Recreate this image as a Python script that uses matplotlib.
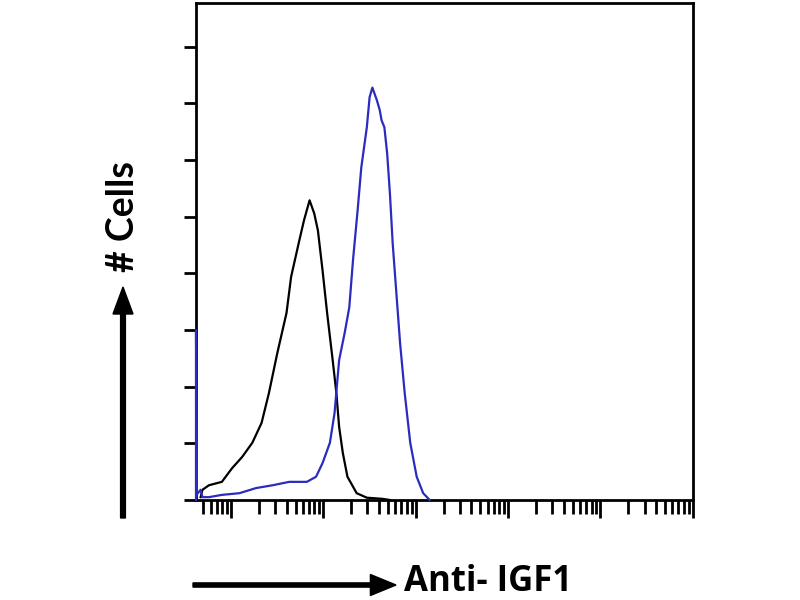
import numpy as np
import matplotlib
matplotlib.use("Agg")
from matplotlib import pyplot as plt
from matplotlib.ticker import LogLocator, NullFormatter

# -------------------- Datos del histograma --------------------
# log10 de la intensidad y numero de celulas (unidades de la escala)
control_log = [-0.33, -0.31, -0.24, -0.10, 0.01, 0.12, 0.23, 0.33, 0.41, 0.50, 0.60,
               0.65, 0.74, 0.79, 0.85, 0.90, 0.94, 0.99, 1.04, 1.10, 1.14, 1.17,
               1.21, 1.26, 1.36, 1.47, 1.56, 1.64, 1.72]
control_cells = [0.05, 0.18, 0.26, 0.32, 0.56, 0.76, 1.01, 1.36, 1.89, 2.59, 3.30,
                 3.94, 4.59, 4.94, 5.29, 5.06, 4.76, 4.06, 3.30, 2.47, 1.89, 1.29,
                 0.83, 0.41, 0.12, 0.04, 0.03, 0.02, 0.0]

igf1_log = [-0.38, -0.38, -0.37, -0.33, -0.31, -0.24, -0.10, 0.09, 0.27, 0.45, 0.63,
            0.82, 0.92, 0.99, 1.07, 1.12, 1.17, 1.23, 1.28, 1.32, 1.37, 1.41, 1.47,
            1.50, 1.53, 1.58, 1.61, 1.63, 1.66, 1.69, 1.72, 1.75, 1.79, 1.83, 1.88,
            1.94, 2.01, 2.08, 2.15]
igf1_cells = [0.0, 3.0, 0.10, 0.18, 0.05, 0.05, 0.09, 0.12, 0.21, 0.26, 0.32,
              0.32, 0.41, 0.65, 1.01, 1.53, 2.47, 2.95, 3.40, 4.23, 5.11, 5.87, 6.58,
              7.11, 7.28, 7.05, 6.88, 6.70, 6.58, 6.12, 5.41, 4.53, 3.65, 2.77, 1.89,
              1.01, 0.41, 0.12, 0.0]

y_ticks = [0, 1, 2, 3, 4, 5, 6, 7, 8]
x_label = "Anti- IGF1"
y_label = "# Cells"

# -------------------- Figura --------------------
fig = plt.figure(figsize=(8, 6), dpi=100)
ax = fig.add_axes([0.245, 0.1667, 0.621, 0.828])

ax.plot(10 ** np.array(control_log), control_cells, color="black", lw=1.6, zorder=3)
ax.plot(10 ** np.array(igf1_log), igf1_cells, color="#2b2bc0", lw=1.6, zorder=3,
        clip_on=False)

ax.set_xscale("log")
ax.set_xlim(10 ** -0.38, 10 ** 5)
ax.set_ylim(0, 8.77)
ax.set_yticks(y_ticks)
ax.set_yticklabels([])
ax.xaxis.set_major_locator(LogLocator(base=10, numticks=20))
ax.xaxis.set_minor_locator(LogLocator(base=10, subs=np.arange(2, 10), numticks=20))
ax.xaxis.set_major_formatter(NullFormatter())
ax.xaxis.set_minor_formatter(NullFormatter())

ax.tick_params(axis="x", which="major", direction="out", length=13, width=2)
ax.tick_params(axis="x", which="minor", direction="out", length=10, width=2)
ax.tick_params(axis="y", direction="out", length=9, width=2)
for sp in ax.spines.values():
    sp.set_linewidth(2)

# -------------------- Flechas y etiquetas --------------------
fig.patches.append(matplotlib.patches.FancyArrow(
    123 / 800, 1 - 518 / 600, 0, (518 - 287) / 600 - 0.045, width=0.006,
    head_width=0.025, head_length=0.045, color="black", transform=fig.transFigure))
fig.patches.append(matplotlib.patches.FancyArrow(
    193 / 800, 1 - 585 / 600, (396 - 193) / 800 - 0.032, 0, width=0.007,
    head_width=0.035, head_length=0.032, color="black", transform=fig.transFigure))

fig.text(123 / 800, 1 - 217 / 600, y_label, rotation=90, ha="center", va="center",
         fontsize=27, fontweight="bold", family=["Lato", "DejaVu Sans"])
fig.text(404 / 800, 1 - 591 / 600, x_label, ha="left", va="baseline",
         fontsize=25, fontweight="bold", family=["Open Sans", "DejaVu Sans"])

fig.savefig("out.png", dpi=100)
